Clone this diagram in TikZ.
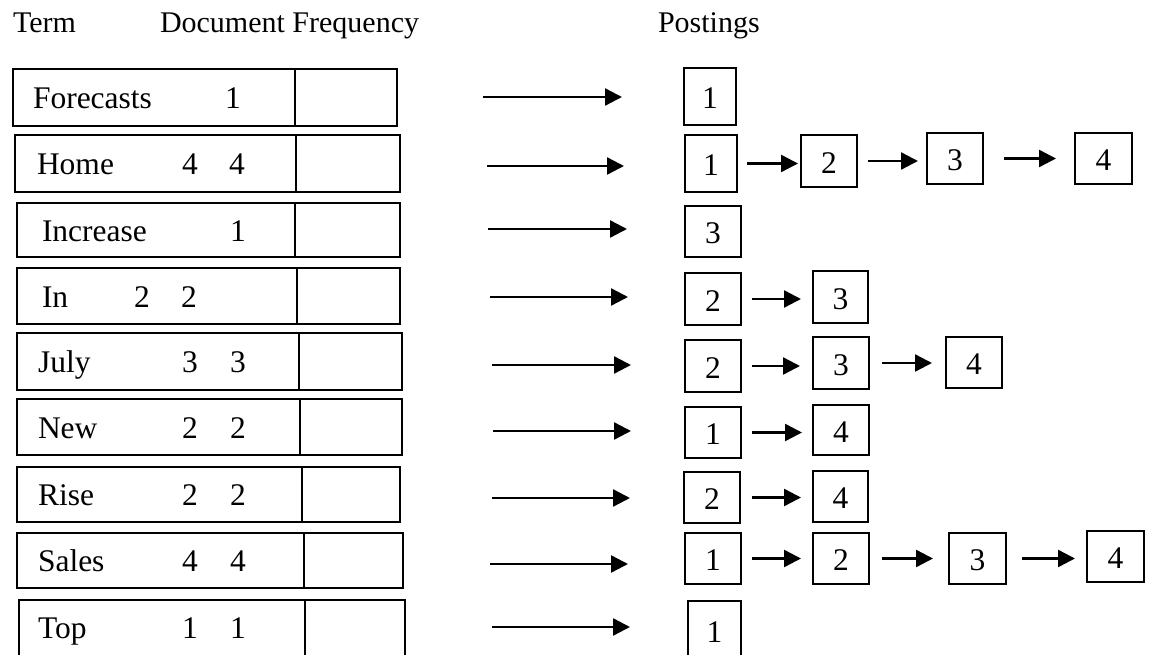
\documentclass[tikz,border=0pt]{standalone}
\usepackage{fontspec}
\setmainfont{Liberation Serif}
\usetikzlibrary{arrows.meta}
\begin{document}
\begin{tikzpicture}[x=1pt,y=-1pt,
  every node/.style={inner sep=0pt, outer sep=0pt},
  txt/.style={font=\fontsize{31.5}{36}\selectfont},
  hdr/.style={font=\fontsize{30}{36}\selectfont, anchor=base west},
  cell/.style={draw, line width=2.6pt, anchor=north west},
  pbox/.style={draw, line width=2.6pt, font=\fontsize{31.5}{36}\selectfont},
  arr/.style={line width=2.4pt, -{Triangle[length=17pt,width=17pt]}}
]
\fill[white] (0,0) rectangle (1151,655);
\useasboundingbox (0,0) rectangle (1151,655);
\clip (0,0) rectangle (1151,655);

% headers
\node[hdr] (hterm) at (13,33) {Term};
\node[hdr] (hdf) at (160,33) {Document Frequency};
\node[hdr] (hpost) at (658,33) {Postings};

% term boxes
\foreach \i/\t/\b/\l/\d/\r/\term/\tx/\cy in {
  1/69/126/13/295/397/Forecasts/33/97.5,
  2/135/192/15/296/400/Home/37/163.5,
  3/203/257/17/295/400/Increase/42/230,
  4/268/324/17/297/400/In/42/296,
  5/333/390/17/299/402/July/38/361.5,
  6/399/455/17/300/402/New/38/427,
  7/467/522/17/302/400/Rise/38/494.5,
  8/533/588/17/304/403/Sales/38/560.5,
  9/600/658/19/305/405/Top/38/627}{
  \pgfmathsetmacro\wa{\d-\l}
  \pgfmathsetmacro\wb{\r-\d}
  \pgfmathsetmacro\hh{\b-\t}
  \pgfmathsetmacro\bl{\cy+11}
  \node[cell, minimum width=\wa pt, minimum height=\hh pt] (t\i) at (\l,\t) {};
  \node[cell, minimum width=\wb pt, minimum height=\hh pt] (v\i) at (\d,\t) {};
  \node[txt, anchor=base west] (tt\i) at (\tx,\bl) {\term};
}

% document frequency numbers
\node[txt, anchor=base] (n1b) at (233,108.5) {1};
\node[txt, anchor=base] (n2a) at (190,174.5) {4};
\node[txt, anchor=base] (n2b) at (237,174.5) {4};
\node[txt, anchor=base] (n3b) at (238,241) {1};
\node[txt, anchor=base] (n4a) at (142,307) {2};
\node[txt, anchor=base] (n4b) at (189,307) {2};
\node[txt, anchor=base] (n5a) at (190,372.5) {3};
\node[txt, anchor=base] (n5b) at (238,372.5) {3};
\node[txt, anchor=base] (n6a) at (190,438) {2};
\node[txt, anchor=base] (n6b) at (238,438) {2};
\node[txt, anchor=base] (n7a) at (190,505.5) {2};
\node[txt, anchor=base] (n7b) at (238,505.5) {2};
\node[txt, anchor=base] (n8a) at (190,571.5) {4};
\node[txt, anchor=base] (n8b) at (238,571.5) {4};
\node[txt, anchor=base] (n9a) at (190,638) {1};
\node[txt, anchor=base] (n9b) at (238,638) {1};

% long arrows
\foreach \i/\xa/\xb/\y in {1/483/622/97, 2/487/624/166, 3/488/627/229,
  4/490/628/297, 5/492/631/365, 6/493/631/431, 7/492/630/498,
  8/490/628/564, 9/492/630/627}{
  \coordinate (s\i) at (\xa,\y);
  \coordinate (e\i) at (\xb,\y);
  \draw[arr] (s\i) -- (e\i);
}

% postings boxes
\foreach \n/\cx/\cy/\w/\h/\v in {
  p11/710/96.5/52/57/1,
  p21/711/163.5/52/57/1, p22/829/161/56/52/2, p23/955/158.5/56/51/3, p24/1103.5/158.5/57/51/4,
  p31/713/231.5/56/51/3,
  p41/713/299/56/52/2, p42/840.5/297/55/52/3,
  p51/713/366/56/52/2, p52/841/363/56/52/3, p53/974/362.5/56/51/4,
  p61/713/432.5/56/51/1, p62/841/430/56/50/4,
  p71/712/497.5/56/51/2, p72/840.5/496.5/55/51/4,
  p81/713/558.5/56/51/1, p82/841/558.5/56/51/2, p83/977.5/558.5/57/51/3, p84/1115.5/556.5/57/51/4,
  p91/714.5/630.5/53/59/1}{
  \node[pbox, minimum width=\w pt, minimum height=\h pt] (\n) at (\cx,\cy) {\raisebox{-2pt}[\height][0pt]{\v}};
}

% postings links
\foreach \a/\b/\sa/\sb in {
  p21/p22/10/3, p22/p23/11/9, p23/p24/21/19,
  p41/p42/11/12,
  p51/p52/11/13, p52/p53/13/14,
  p61/p62/11/11,
  p71/p72/12/12,
  p81/p82/11/12, p82/p83/13/16, p83/p84/16/12}{
  \draw[arr, shorten <=\sa pt, shorten >=\sb pt] (\a.east) -- (\a.east -| \b.west);
}
\end{tikzpicture}
\end{document}
